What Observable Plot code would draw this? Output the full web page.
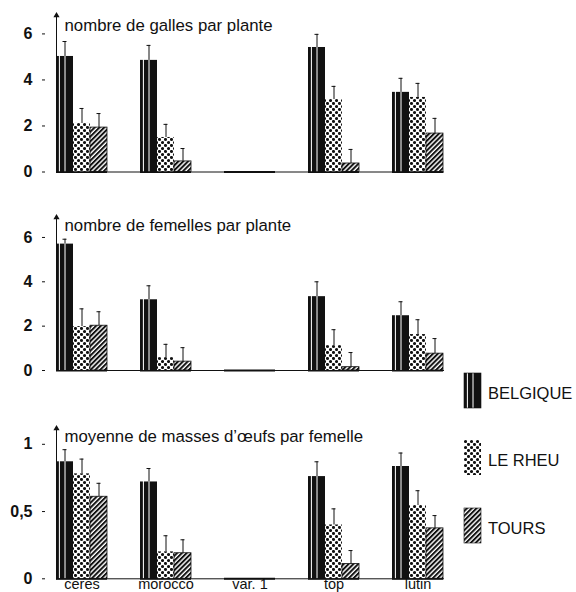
<!DOCTYPE html>
<html><head><meta charset="utf-8">
<script src="https://cdn.jsdelivr.net/npm/d3@7"></script>
<script src="https://cdn.jsdelivr.net/npm/@observablehq/plot@0.6"></script>
<style>
html,body{margin:0;padding:0;background:#fff;}
#wrap{position:relative;width:576px;height:592px;overflow:hidden;background:#fff;font-family:'Liberation Sans',Arial,sans-serif;}
#wrap > svg{position:absolute;left:0;}
</style></head><body><div id="wrap"></div>
<script>
const varieties = ["ceres", "morocco", "var. 1", "top", "lutin"];
const sites = ["BELGIQUE", "LE RHEU", "TOURS"];

const gallesBelgique   = [5.02, 4.85, 0, 5.41, 3.46];
const gallesBelgiqueSE = [0.65, 0.65, 0, 0.57, 0.61];
const gallesLeRheu     = [2.11, 1.50, 0, 3.15, 3.24];
const gallesLeRheuSE   = [0.65, 0.57, 0, 0.57, 0.61];
const gallesTours      = [1.93, 0.46, 0, 0.37, 1.67];
const gallesToursSE    = [0.61, 0.56, 0, 0.61, 0.66];

const femellesBelgique   = [5.70, 3.19, 0, 3.33, 2.47];
const femellesBelgiqueSE = [0.22, 0.63, 0, 0.67, 0.63];
const femellesLeRheu     = [1.98, 0.58, 0, 1.12, 1.62];
const femellesLeRheuSE   = [0.80, 0.60, 0, 0.72, 0.67];
const femellesTours      = [2.02, 0.40, 0, 0.15, 0.76];
const femellesToursSE    = [0.63, 0.63, 0, 0.66, 0.68];

const oeufsBelgique   = [0.87, 0.72, 0, 0.76, 0.835];
const oeufsBelgiqueSE = [0.09, 0.10, 0, 0.11, 0.10];
const oeufsLeRheu     = [0.78, 0.20, 0, 0.40, 0.545];
const oeufsLeRheuSE   = [0.11, 0.12, 0, 0.12, 0.11];
const oeufsTours      = [0.61, 0.19, 0, 0.11, 0.375];
const oeufsToursSE    = [0.10, 0.10, 0, 0.10, 0.095];

const gallesTicks = [0, 2, 4, 6];
const femellesTicks = [0, 2, 4, 6];
const oeufsTicks = [0, 0.5, 1];

const gallesTitle = "nombre de galles par plante";
const femellesTitle = "nombre de femelles par plante";
const oeufsTitle = "moyenne de masses d\u2019\u0153ufs par femelle";

function table(series) {
  const rows = [];
  series.forEach(([means, ses], k) => {
    means.forEach((m, i) => rows.push({variety: varieties[i], site: sites[k], mean: m, se: ses[i]}));
  });
  return rows;
}

function addDefs(node, p) {
  const defs = d3.select(node).insert("defs", ":first-child");
  const b = defs.append("pattern").attr("id", p + "-belg")
    .attr("patternUnits", "objectBoundingBox").attr("patternContentUnits", "objectBoundingBox")
    .attr("width", 1).attr("height", 1);
  b.append("rect").attr("width", 1).attr("height", 1).attr("fill", "#111");
  b.append("rect").attr("x", 0.17).attr("width", 0.06).attr("height", 1).attr("fill", "#fff");
  b.append("rect").attr("x", 0.5).attr("width", 0.06).attr("height", 1).attr("fill", "#fff");
  const r = defs.append("pattern").attr("id", p + "-rheu")
    .attr("patternUnits", "userSpaceOnUse").attr("width", 6).attr("height", 6);
  r.append("rect").attr("width", 6).attr("height", 6).attr("fill", "#fff");
  r.append("circle").attr("cx", 1.5).attr("cy", 1.5).attr("r", 1.55).attr("fill", "#111");
  r.append("circle").attr("cx", 4.5).attr("cy", 4.5).attr("r", 1.55).attr("fill", "#111");
  const t = defs.append("pattern").attr("id", p + "-tours")
    .attr("patternUnits", "userSpaceOnUse").attr("width", 3.4).attr("height", 3.4)
    .attr("patternTransform", "rotate(45)");
  t.append("rect").attr("width", 3.4).attr("height", 3.4).attr("fill", "#fff");
  t.append("rect").attr("width", 2.0).attr("height", 3.4).attr("fill", "#111");
}

const tickFont = "'Liberation Sans Narrow','Arial Narrow','Liberation Sans',Arial,sans-serif";

function panel({rows, ticks, yMax, title, top, height, marginTop, marginBottom, titleDy, showX, p}) {
  const fills = sites.map(s => `url(#${p}-${s === "BELGIQUE" ? "belg" : s === "LE RHEU" ? "rheu" : "tours"})`);
  const withErr = rows.filter(d => d.se > 0);
  const marks = [
    Plot.ruleY([0], {strokeWidth: 2}),
    Plot.barY(rows, {fx: "variety", x: "site", y: "mean", fill: "site"}),
    Plot.barY(rows.filter(d => d.site === "TOURS"), {fx: "variety", x: "site", y: "mean", fill: "none", stroke: "#111", strokeWidth: 0.8}),
    Plot.ruleX(withErr, {fx: "variety", x: "site", y1: "mean", y2: d => d.mean + d.se, stroke: "#111", strokeWidth: 1}),
    Plot.tickY(withErr, {fx: "variety", x: "site", y: d => d.mean + d.se, insetLeft: 6.5, insetRight: 6.5, stroke: "#111", strokeWidth: 1}),
    Plot.frame({facet: "super", anchor: "left", stroke: "#111"}),
    Plot.frame({facet: "super", anchor: "bottom", stroke: "#111"}),
    Plot.dot([0], {facet: "super", frameAnchor: "top-left", symbol: "triangle", r: 2.3, fill: "#111", stroke: "none"}),
    Plot.axisY({ticks, label: null, tickSize: 3, tickPadding: 10, dx: -11, tickFormat: d => String(d).replace(".", ","),
      fontSize: 16, fontWeight: "bold", fontFamily: tickFont, fill: "#111", stroke: "#111"}),
    Plot.text([title], {facet: "super", frameAnchor: "top-left", text: d => d, dx: 8, dy: titleDy,
      textAnchor: "start", lineAnchor: "bottom", fontSize: 16.8, fill: "#111"})
  ];
  if (showX) marks.push(Plot.axisFx({anchor: "bottom", tickSize: 0, tickPadding: 0, fontSize: 14.5, fill: "#111", label: null}));
  const fxOpts = {domain: varieties, paddingInner: 0.388, paddingOuter: 0.106, align: 0.61, label: null};
  if (!showX) fxOpts.axis = null;
  const chart = Plot.plot({
    width: 576, height, marginLeft: 42, marginRight: 124, marginTop, marginBottom,
    fx: fxOpts,
    x: {domain: sites, paddingInner: 0, paddingOuter: 0, axis: null},
    y: {domain: [0, yMax], label: null},
    color: {domain: sites, range: fills},
    style: {fontFamily: "'Liberation Sans',Arial,sans-serif", background: "transparent", overflow: "visible", color: "#111"},
    marks
  });
  addDefs(chart, p);
  chart.style.top = top + "px";
  return chart;
}

const wrap = document.getElementById("wrap");
wrap.appendChild(panel({
  rows: table([[gallesBelgique, gallesBelgiqueSE], [gallesLeRheu, gallesLeRheuSE], [gallesTours, gallesToursSE]]),
  ticks: gallesTicks, yMax: 6.8, title: gallesTitle, top: 0, height: 185, marginTop: 15, marginBottom: 13.5, titleDy: 15, showX: false, p: "g"
}));
wrap.appendChild(panel({
  rows: table([[femellesBelgique, femellesBelgiqueSE], [femellesLeRheu, femellesLeRheuSE], [femellesTours, femellesToursSE]]),
  ticks: femellesTicks, yMax: 6.9, title: femellesTitle, top: 195, height: 185, marginTop: 22, marginBottom: 10, titleDy: 13, showX: false, p: "f"
}));
wrap.appendChild(panel({
  rows: table([[oeufsBelgique, oeufsBelgiqueSE], [oeufsLeRheu, oeufsLeRheuSE], [oeufsTours, oeufsToursSE]]),
  ticks: oeufsTicks, yMax: 1.1175, title: oeufsTitle, top: 400, height: 192, marginTop: 28, marginBottom: 13.7, titleDy: 13, showX: true, p: "o"
}));

// legend
const leg = d3.create("svg").attr("width", 121).attr("height", 190).style("top", "365px").style("left", "455px");
addDefs(leg.node(), "l");
const legIds = ["belg", "rheu", "tours"];
const legRowTop = [8, 75, 143];
sites.forEach((s, i) => {
  leg.append("rect").attr("x", 9).attr("y", legRowTop[i]).attr("width", 17).attr("height", 35)
    .attr("fill", `url(#l-${legIds[i]})`).attr("stroke", i === 1 ? "none" : "#111").attr("stroke-width", 0.6);
  leg.append("text").attr("x", 33).attr("y", legRowTop[i] + 26).attr("font-size", 16.5)
    .attr("fill", "#111").attr("font-family", "'Liberation Sans',Arial,sans-serif").text(s);
});
wrap.appendChild(leg.node());
</script></body></html>
